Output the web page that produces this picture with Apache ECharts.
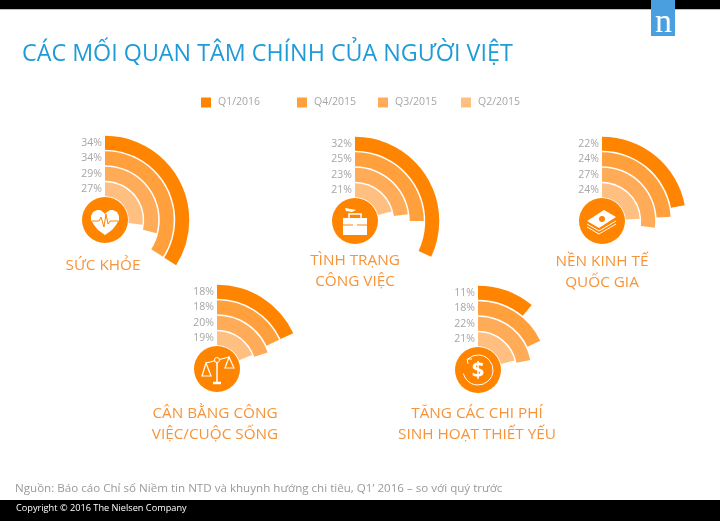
<!DOCTYPE html>
<html>
<head>
<meta charset="utf-8">
<style>html,body{margin:0;padding:0;background:#fff}#main{width:720px;height:521px}</style>
<script src="https://cdn.jsdelivr.net/npm/echarts@6/dist/echarts.min.js"></script>
</head>
<body>
<div id="main"></div>
<script>
// quarters, innermost ring first
var quarters = ['Q2/2015', 'Q3/2015', 'Q4/2015', 'Q1/2016']
var quarterColors = ['#ffbf80', '#ffab57', '#ffa03d', '#ff8500']

var healthValues = [27, 29, 34, 34]
var jobValues = [21, 23, 25, 32]
var economyValues = [24, 27, 24, 22]
var balanceValues = [19, 20, 18, 18]
var costValues = [21, 22, 18, 11]

var panelValues = [healthValues, jobValues, economyValues, balanceValues, costValues]
var panelLabels = [
  ['SỨC KHỎE'],
  ['TÌNH TRẠNG', 'CÔNG VIỆC'],
  ['NỀN KINH TẾ', 'QUỐC GIA'],
  ['CÂN BẰNG CÔNG', 'VIỆC/CUỘC SỐNG'],
  ['TĂNG CÁC CHI PHÍ', 'SINH HOẠT THIẾT YẾU']
]

var centers = [[105, 220], [355, 221], [602, 221], [217, 369], [478, 370]]
var labelPos = [[103, 255], [355, 250], [602, 251], [215, 403], [477, 403]]
var legendLeft = [201, 297, 378, 461]
var orange = '#ff8500'
var labelColor = '#f7943a'
var font = '"Open Sans", "Noto Sans", sans-serif'

var chart = echarts.init(document.getElementById('main'))

var polar = [], angleAxis = [], radiusAxis = [], series = []
panelValues.forEach(function (values, p) {
  polar.push({ center: centers[p], radius: [23, 85] })
  angleAxis.push({
    polarIndex: p, min: 0, max: 100, startAngle: 90, clockwise: true, show: false
  })
  radiusAxis.push({
    polarIndex: p,
    type: 'category',
    data: quarters,
    axisLine: { show: false },
    axisTick: { show: false },
    splitLine: { show: false },
    axisLabel: {
      interval: 0,
      color: '#a6a6a6', fontSize: 10.5, fontFamily: font, margin: 3,
      formatter: function (v, i) { return values[i] + '%' }
    }
  })
  quarters.forEach(function (q, i) {
    series.push({
      name: q,
      type: 'bar',
      coordinateSystem: 'polar',
      polarIndex: p,
      radiusAxisIndex: p,
      angleAxisIndex: p,
      stack: 'panel' + p,
      barWidth: 14,
      silent: true,
      itemStyle: { color: quarterColors[i] },
      data: values.map(function (v, k) { return k === i ? v : null })
    })
  })
})

// legend order follows the picture: newest quarter on the left
var legend = quarters.slice().reverse().map(function (q, i) {
  return {
    data: [{ name: q, icon: 'rect' }],
    left: legendLeft[i],
    top: 97,
    padding: 0,
    itemWidth: 10,
    itemHeight: 10,
    selectedMode: false,
    textStyle: { color: '#a6a6a6', fontSize: 10.5, fontFamily: font, padding: [0, 0, 0, 2] }
  }
})

function white(type, shape) {
  return { type: type, shape: shape, style: { fill: '#fff' } }
}
function line(x1, y1, x2, y2, w) {
  return { type: 'line', shape: { x1: x1, y1: y1, x2: x2, y2: y2 }, style: { stroke: '#fff', lineWidth: w || 1 } }
}
function stroke(points, w) {
  return { type: 'polyline', shape: { points: points }, style: { stroke: '#fff', fill: null, lineWidth: w || 1 } }
}

var icons = [
  [ // heart
    { type: 'polygon', shape: { points: [[0, 15], [-7, 10], [-11, 5], [-14, 0], [-14, -4], [-12, -8], [-8, -10], [-5, -10], [-2, -8], [0, -6], [2, -8], [5, -10], [8, -10], [12, -8], [14, -4], [14, 0], [11, 5], [7, 10]] }, style: { fill: '#fff' } },
    { type: 'polyline', shape: { points: [[-13, 1], [-6, 1], [-4, -3], [-1, 7], [1, -6], [3, 4], [5, 1], [13, 1]] }, style: { stroke: orange, fill: null, lineWidth: 1 } }
  ],
  [ // briefcase
    white('rect', { x: -12, y: -3, width: 24, height: 17 }),
    { type: 'rect', shape: { x: -6, y: -7, width: 12, height: 5 }, style: { stroke: '#fff', fill: null, lineWidth: 1.5 } },
    { type: 'line', shape: { x1: -12, y1: 4, x2: 12, y2: 4 }, style: { stroke: orange, lineWidth: 1 } },
    white('rect', { x: -2, y: 2, width: 4, height: 4 }),
    { type: 'polygon', shape: { points: [[-10, -13], [-4, -12], [1, -11], [-3, -9], [-9, -10]] }, style: { fill: '#fff' } }
  ],
  [ // banknotes
    stroke([[-15, 3], [-3, 10], [14, 0]]),
    stroke([[-15, 6], [-3, 13], [14, 3]]),
    { type: 'polygon', shape: { points: [[-15, 0], [2, -11], [14, -4], [-3, 7]] }, style: { fill: '#fff' } },
    { type: 'circle', shape: { cx: 0, cy: -2, r: 3 }, style: { fill: orange } }
  ],
  [ // scales
    line(0, -10, 0, 13, 1.5),
    line(-4, 14, 4, 14, 2.5),
    line(-11, -6, 12, -12, 1.2),
    { type: 'circle', shape: { cx: 0, cy: -9, r: 2.5 }, style: { fill: orange, stroke: '#fff', lineWidth: 1 } },
    { type: 'polygon', shape: { points: [[-11, -6], [-15, 7], [-6, 7]] }, style: { fill: null, stroke: '#fff', lineWidth: 1.2 } },
    { type: 'polygon', shape: { points: [[12, -12], [8, -1], [17, -1]] }, style: { fill: null, stroke: '#fff', lineWidth: 1.2 } }
  ],
  [ // dollar with round arrow
    { type: 'arc', shape: { cx: 0, cy: 0, r: 15, startAngle: -2.3, endAngle: 2.9, clockwise: true }, style: { stroke: '#fff', fill: null, lineWidth: 1 } },
    stroke([[-6, -11], [-11, -11], [-10, -6]]),
    { type: 'text', style: { text: '$', x: 0, y: 1, fill: '#fff', fontSize: 22, fontWeight: 'bold', fontFamily: font, align: 'center', verticalAlign: 'middle' } }
  ]
]

var graphic = [
  { type: 'rect', left: 0, top: 0, shape: { width: 720, height: 9 }, style: { fill: '#000' } },
  { type: 'rect', left: 0, top: 9, shape: { width: 720, height: 1 }, style: { fill: '#bfbfbf' } },
  { type: 'rect', left: 651, top: 0, shape: { width: 24, height: 36 }, style: { fill: '#4a9fdf' } },
  { type: 'text', left: 655, top: 6, style: { text: 'n', fill: '#fff', fontSize: 34, fontFamily: '"Liberation Serif", serif' } },
  { type: 'rect', left: 0, top: 500, shape: { width: 720, height: 21 }, style: { fill: '#000' } },
  { type: 'text', left: 16, top: 504, style: { text: 'Copyright © 2016 The Nielsen Company', fill: '#fff', fontSize: 9.2, fontFamily: font } },
  { type: 'text', left: 15, top: 483, style: { text: 'Nguồn: Báo cáo Chỉ số Niềm tin NTD và khuynh hướng chi tiêu, Q1’ 2016 – so với quý trước', fill: '#9a9a9a', fontSize: 11.6, fontFamily: font } },
  { type: 'text', left: 22, top: 43, style: { text: 'CÁC MỐI QUAN TÂM CHÍNH CỦA NGƯỜI VIỆT', fill: '#1f9bd7', fontSize: 23.3, fontFamily: font } }
]
centers.forEach(function (c, p) {
  graphic.push({
    type: 'group', x: c[0], y: c[1],
    children: [{ type: 'circle', shape: { cx: 0, cy: 0, r: 23 }, style: { fill: orange } }].concat(icons[p])
  })
  graphic.push({
    type: 'text', x: labelPos[p][0], y: labelPos[p][1],
    style: {
      text: panelLabels[p].join('\n'), fill: labelColor, fontSize: 15.3, lineHeight: 21,
      fontFamily: font, align: 'center', verticalAlign: 'top'
    }
  })
})

chart.setOption({
  animation: false,
  backgroundColor: '#fff',
  legend: legend,
  polar: polar,
  angleAxis: angleAxis,
  radiusAxis: radiusAxis,
  series: series,
  graphic: graphic
})
</script>
</body>
</html>
